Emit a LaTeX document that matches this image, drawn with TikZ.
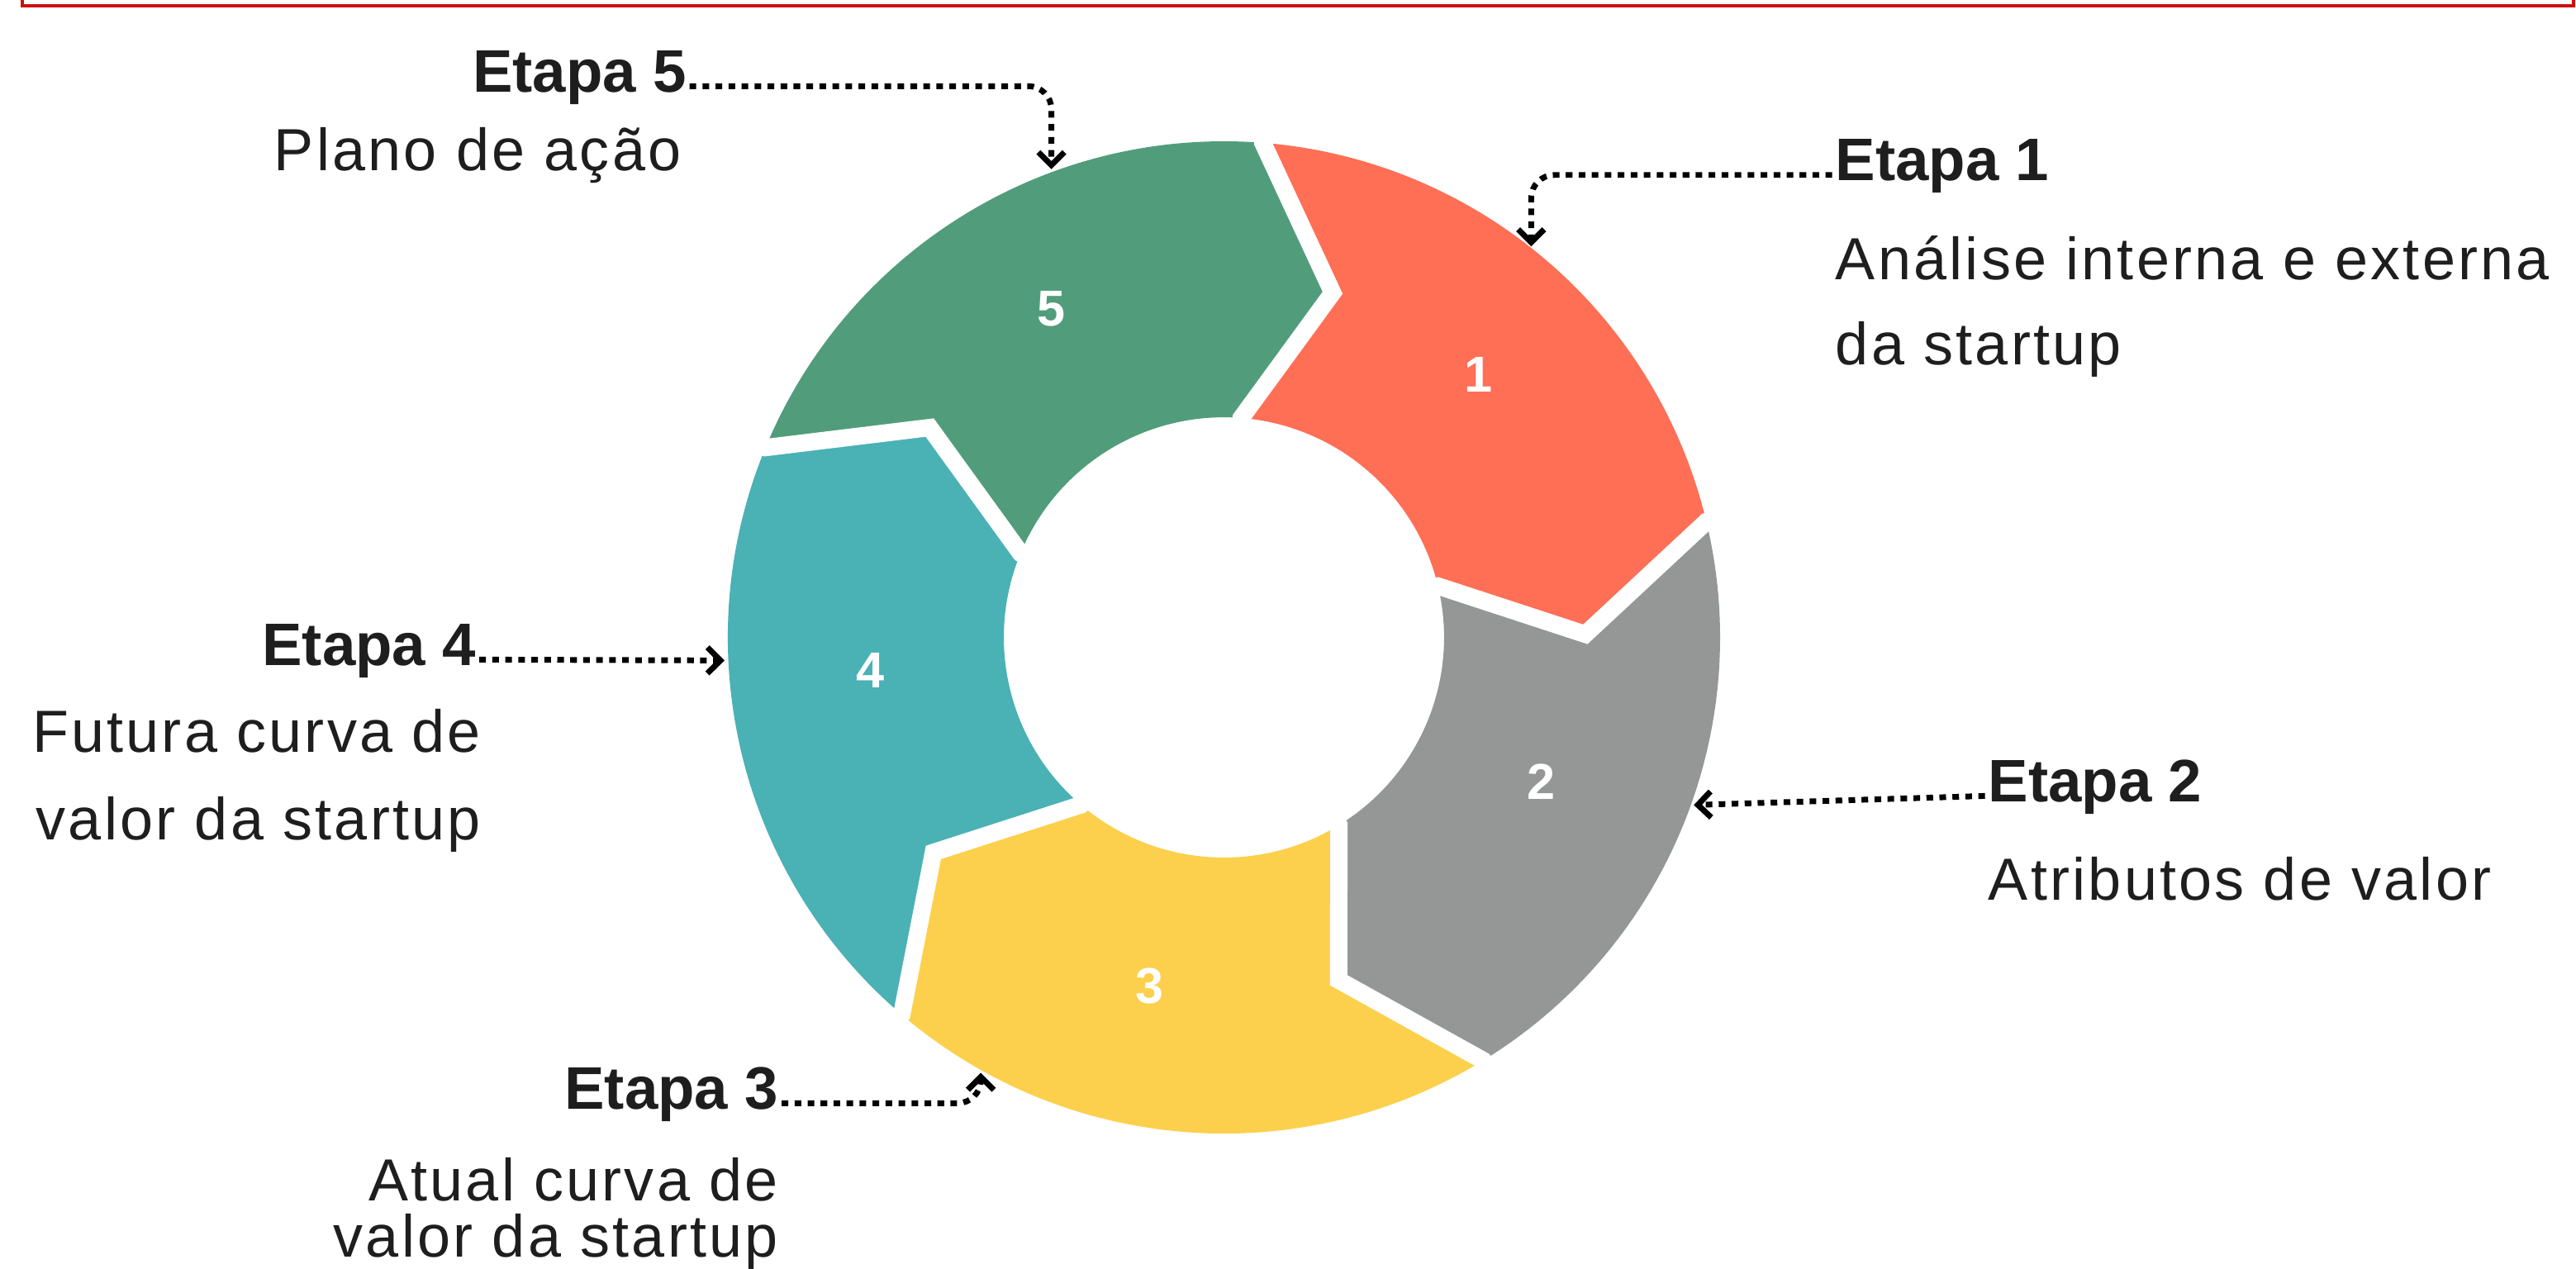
\documentclass[tikz,border=0pt]{standalone}
\usepackage{fontspec}
\setmainfont{Liberation Sans}
\newfontfamily\spacedfont[LetterSpace=4.5]{Liberation Sans}
\usetikzlibrary{arrows.meta}
\definecolor{segred}{HTML}{FF6F56}
\definecolor{seggrey}{HTML}{949795}
\definecolor{segyellow}{HTML}{FCD04C}
\definecolor{segteal}{HTML}{4AB1B5}
\definecolor{seggreen}{HTML}{519D7B}
\definecolor{txt}{HTML}{1E1E1E}
\definecolor{framered}{HTML}{CC1010}
\begin{document}
\begin{tikzpicture}[x=0.02cm,y=0.02cm,
  lbl/.style={font=\spacedfont\fontsize{20.6}{24}\selectfont, text=txt, inner sep=0pt},
  ttl/.style={font=\fontsize{20.8}{24}\selectfont\bfseries, text=txt, inner sep=0pt},
  num/.style={font=\fontsize{17.5}{20}\selectfont\bfseries, text=white, inner sep=0pt},
  conn/.style={draw=black, line width=2pt, dash pattern=on 2.3pt off 2.2pt,
    rounded corners=8pt, -{Straight Barb[length=4.5pt,width=9pt,line width=2pt]}},
  gapline/.style={draw=white, line width=6pt, line join=miter},
]
\useasboundingbox (0,0) rectangle (1568,772);
% top frame
\draw[framered, line width=0.9pt] (13.6,780) -- (13.6,768.5) -- (1566.5,768.5) -- (1566.5,780);

% ring
\begin{scope}[shift={(745,384)}]
  \foreach \a/\c in {85.5/segred, 13.5/seggrey, -58.5/segyellow, -130.5/segteal, 157.5/seggreen} {
    \pgfmathsetmacro\b{\a-72}
    \pgfmathsetmacro\t{\b-13}
    \pgfmathsetmacro\n{\a-13}
    \fill[\c] (\a:302) arc[start angle=\a, end angle=\b, radius=302] -- (\t:220) -- (\b:134)
      arc[start angle=\b, end angle=\a, radius=134] -- (\n:220) -- cycle;
  }
  \foreach \a in {85.5, 13.5, -58.5, -130.5, 157.5} {
    \pgfmathsetmacro\t{\a-13}
    \draw[gapline] (\a:318) -- (\a:302) -- (\t:220) -- (\a:134) -- (\a:118);
  }
\end{scope}

% numbers
\node[num] (n1) at (900,544) {1};
\node[num] (n2) at (938,296) {2};
\node[num] (n3) at (700,172) {3};
\node[num] (n4) at (530,364) {4};
\node[num] (n5) at (640,584) {5};

% labels
\node[ttl, anchor=base east] (e5) at (418,716) {Etapa 5};
\node[lbl, anchor=base east] (d5) at (415,668) {Plano de ação};

\node[ttl, anchor=base west] (e1) at (1117,662) {Etapa 1};
\node[lbl, anchor=base west] (d1a) at (1117,602) {Análise interna e externa};
\node[lbl, anchor=base west] (d1b) at (1117,550) {da startup};

\node[ttl, anchor=base east] (e4) at (290,367) {Etapa 4};
\node[lbl, anchor=base east] (d4a) at (293,314) {Futura curva de};
\node[lbl, anchor=base east] (d4b) at (293,261) {valor da startup};

\node[ttl, anchor=base west] (e2) at (1210,284) {Etapa 2};
\node[lbl, anchor=base west] (d2) at (1210,224) {Atributos de valor};

\node[ttl, anchor=base east] (e3) at (474,97) {Etapa 3};
\node[lbl, anchor=base east] (d3a) at (474,41) {Atual curva de};
\node[lbl, anchor=base east] (d3b) at (474,7) {valor da startup};

% arrow targets on the ring
\coordinate (t5) at (640,669);
\coordinate (t1) at (932,622);
\coordinate (t4) at (441,370);
\coordinate (t2) at (1031,282);
\coordinate (t3) at (597,119);

% connectors
\draw[conn] ([xshift=1pt,yshift=2pt]e5.base east) -| (t5);
\draw[conn] ([xshift=-1pt,yshift=2pt]e1.base west) -| (t1);
\draw[conn] ([xshift=1pt,yshift=2pt]e4.base east) -- (t4);
\draw[conn] ([xshift=-1pt,yshift=2pt]e2.base west) -- (t2);
\draw[conn] ([xshift=1pt,yshift=2pt]e3.base east) -| (t3);
\end{tikzpicture}
\end{document}
